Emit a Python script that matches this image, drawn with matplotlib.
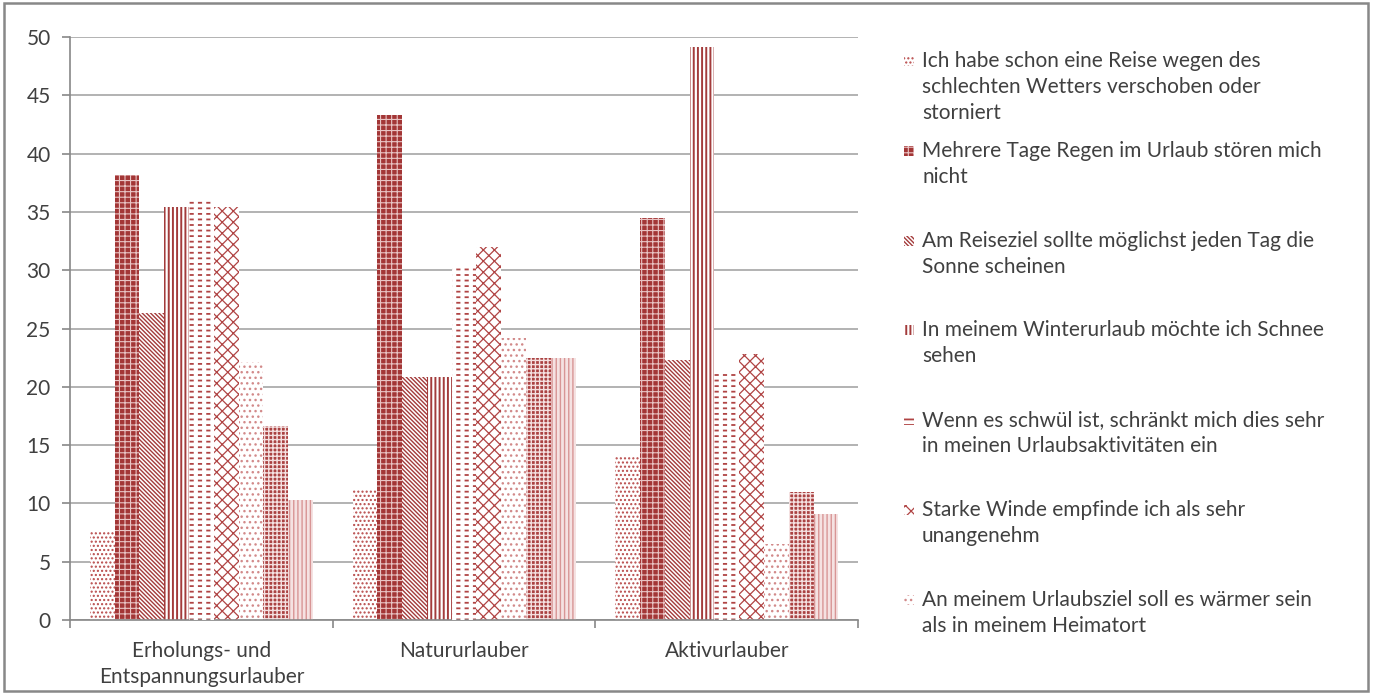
import matplotlib
matplotlib.use("Agg")
import matplotlib.pyplot as plt
import numpy as np
from matplotlib.patches import Rectangle

plt.rcParams['font.family'] = ['Lato', 'DejaVu Sans']

# Traveller types on the x axis
categories = ["Erholungs- und\nEntspannungsurlauber", "Natururlauber", "Aktivurlauber"]

# Agreement (%) per statement, one list per statement, in category order
s1_verschoben = [7.6, 11.2, 14.1]
s2_regen_egal = [38.2, 43.3, 34.5]
s3_sonne = [26.3, 20.8, 22.3]
s4_schnee = [35.4, 20.8, 49.1]
s5_schwuel = [36.0, 30.2, 21.3]
s6_wind = [35.4, 32.0, 22.8]
s7_waermer = [22.1, 24.2, 6.5]
s8_serie = [16.6, 22.5, 11.0]
s9_serie = [10.3, 22.5, 9.1]

series_values = [s1_verschoben, s2_regen_egal, s3_sonne, s4_schnee, s5_schwuel,
                 s6_wind, s7_waermer, s8_serie, s9_serie]

legend_labels = [
    "Ich habe schon eine Reise wegen des\nschlechten Wetters verschoben oder\nstorniert",
    "Mehrere Tage Regen im Urlaub stören mich\nnicht",
    "Am Reiseziel sollte möglichst jeden Tag die\nSonne scheinen",
    "In meinem Winterurlaub möchte ich Schnee\nsehen",
    "Wenn es schwül ist, schränkt mich dies sehr\nin meinen Urlaubsaktivitäten ein",
    "Starke Winde empfinde ich als sehr\nunangenehm",
    "An meinem Urlaubsziel soll es wärmer sein\nals in meinem Heimatort",
]

yticks = [0, 5, 10, 15, 20, 25, 30, 35, 40, 45, 50]

RED = "#A33B3B"
TXT = "#404040"
FS = 15
# (face colour, hatch, hatch colour, hatch linewidth)
styles = [
    ("white", "....", "#B84A4A", 1.0),
    ("#A33636", "+++", "#E9C4C4", 0.8),
    ("white", "\\" * 8, RED, 1.0),
    ("white", "||||", RED, 1.4),
    ("white", "---", "#B04444", 1.3),
    ("white", "xxx", "#B04444", 0.9),
    ("white", "...", "#D28A8A", 1.0),
    ("#AA4242", "++++", "#F4E0E0", 1.0),
    ("#F5E2E2", "||||", "#D89595", 1.0),
]

fig = plt.figure(figsize=(13.73, 6.94), dpi=100)
ax = fig.add_axes([0.051, 0.1066, 0.574, 0.8401])

n = len(series_values)
gap = 1.6
w = 1.0 / (n + gap)
x = np.arange(len(categories))


def make_bars(target, xs, vals, face, hatch, hcol, hlw, z=2):
    with plt.rc_context({'hatch.linewidth': hlw}):
        bars = target.bar(xs, vals, width=w, color=face, edgecolor=hcol,
                          linewidth=0, hatch=hatch, zorder=z, align='edge')
    for b in bars:
        try:
            b.set_hatch_linewidth(hlw)
        except AttributeError:
            pass
    return bars


for i, (vals, st) in enumerate(zip(series_values, styles)):
    xs = x - n * w / 2 + i * w
    make_bars(ax, xs, vals, *st)
    if i == 4:
        # white vertical strokes split the horizontal lines into dashes
        make_bars(ax, xs, vals, "none", "||", "white", 3.0, z=3)

ax.set_xlim(-0.5, 2.5)
ax.set_ylim(0, 50)
ax.set_yticks(yticks)
ax.set_yticklabels([str(t) for t in yticks])
ax.yaxis.grid(True, color="#A6A6A6", linewidth=1.2)
ax.set_axisbelow(True)

ax.set_xticks([-0.5, 0.5, 1.5, 2.5])
ax.set_xticklabels([])
ax.set_xticks(x, minor=True)
ax.set_xticklabels(categories, minor=True, fontsize=FS, color=TXT,
                   linespacing=1.38)
ax.tick_params(axis='x', which='minor', length=0, pad=15)
ax.tick_params(axis='x', which='major', length=6, color="#888888", width=1.2)
ax.tick_params(axis='y', length=6, color="#888888", width=1.2, labelsize=FS,
               labelcolor=TXT, pad=8)

for side in ("top", "right"):
    ax.spines[side].set_visible(False)
for side in ("left", "bottom"):
    ax.spines[side].set_color("#888888")
    ax.spines[side].set_linewidth(1.2)

# legend drawn as swatches and wrapped text at fixed spacing
top_px = 61
step_px = 89.8
H = 694.0
Wpx = 1373.0
for i, label in enumerate(legend_labels):
    yc = top_px + i * step_px
    face, hatch, hcol, hlw = styles[i]
    with plt.rc_context({'hatch.linewidth': hlw}):
        sw = Rectangle((904 / Wpx, 1 - (yc + 5) / H), 10 / Wpx, 10 / H,
                       transform=fig.transFigure, facecolor=face,
                       edgecolor=hcol, linewidth=0, hatch=hatch)
    try:
        sw.set_hatch_linewidth(hlw)
    except AttributeError:
        pass
    fig.patches.append(sw)
    fig.text(922 / Wpx, 1 - (yc - 10) / H, label, fontsize=FS, color=TXT,
             va="top", ha="left", linespacing=1.38)

# outer frame
fig.patches.append(Rectangle((0.003, 0.005), 0.993, 0.99, transform=fig.transFigure,
                             facecolor="none", edgecolor="#888888", linewidth=1.8))

fig.savefig("out.png", dpi=100)
